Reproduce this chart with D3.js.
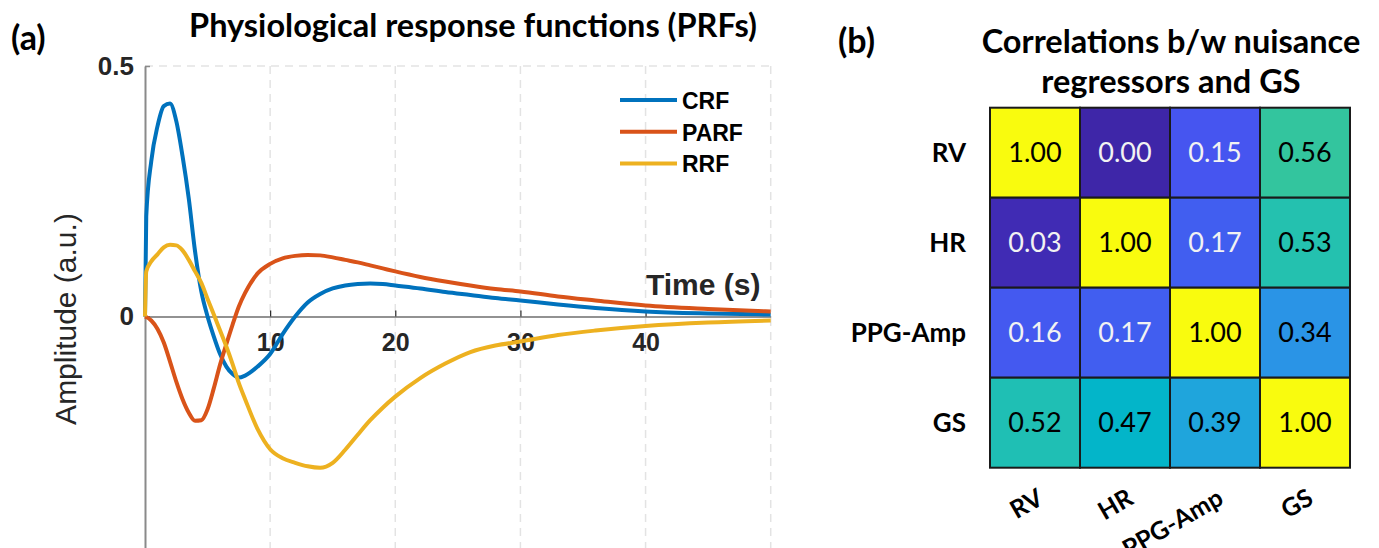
<!DOCTYPE html>
<html>
<head>
<meta charset="utf-8">
<script src="https://cdn.jsdelivr.net/npm/d3@7"></script>
<style>
  body { margin: 0; background: #fff; }
  svg { display: block; }
</style>
</head>
<body>
<div id="chart"></div>
<script>
// panel (a): physiological response functions, sampled off the figure
var time = [0, 0.1, 0.5, 1, 1.5, 2, 2.5, 3, 3.5, 4, 4.5, 5, 5.5, 6, 6.5, 7, 7.5, 8, 9, 10,
    11, 12, 13, 14, 15, 16, 17, 18, 19, 20, 22, 24, 26, 28, 30, 33, 36, 40, 45, 50];
var crf = [0, 0.2, 0.31, 0.38, 0.42, 0.425, 0.39, 0.32, 0.235, 0.13,
    0.05, 0.0, -0.04, -0.075, -0.1, -0.115, -0.122, -0.118, -0.1, -0.075,
    -0.035, 0.0, 0.028, 0.045, 0.056, 0.062, 0.065, 0.066, 0.065, 0.062,
    0.056, 0.049, 0.043, 0.037, 0.032, 0.024, 0.017, 0.01, 0.006, 0.004];
var parf = [0, -0.001, -0.008, -0.025, -0.052, -0.09, -0.13, -0.165, -0.192, -0.208,
    -0.207, -0.185, -0.143, -0.096, -0.055, -0.016, 0.02, 0.047, 0.086, 0.105,
    0.116, 0.121, 0.123, 0.122, 0.118, 0.113, 0.108, 0.102, 0.096, 0.09,
    0.079, 0.07, 0.062, 0.055, 0.05, 0.04, 0.032, 0.022, 0.015, 0.01];
var rrf = [0, 0.09, 0.11, 0.124, 0.138, 0.143, 0.142, 0.132, 0.113, 0.09,
    0.067, 0.035, 0.004, -0.028, -0.06, -0.095, -0.133, -0.165, -0.225, -0.265,
    -0.283, -0.292, -0.299, -0.302, -0.292, -0.266, -0.236, -0.207, -0.182, -0.16,
    -0.123, -0.094, -0.071, -0.058, -0.05, -0.037, -0.028, -0.019, -0.012, -0.008];
var seriesNames = ['CRF', 'PARF', 'RRF'];
var xTicks = [10, 20, 30, 40];
var xGrid = [10, 20, 30, 40, 50];
var yTicks = [0, 0.5];

// panel (b): correlation matrix
var regressors = ['RV', 'HR', 'PPG-Amp', 'GS'];
var corr = [
    [1.00, 0.00, 0.15, 0.56],
    [0.03, 1.00, 0.17, 0.53],
    [0.16, 0.17, 1.00, 0.34],
    [0.52, 0.47, 0.39, 1.00]
];
// parula-like colormap stops
var colorStops = [0, 0.03, 0.15, 0.25, 0.34, 0.39, 0.47, 0.52, 0.56, 0.65, 0.75, 0.87, 1];
var colorRange = ['#3e26a8', '#402bb4', '#4655f0', '#2f80f2', '#2a94e6', '#1fa5dc', '#03b5c9',
    '#1fbfb4', '#33c59e', '#7ccb63', '#c5c13a', '#fcbc3c', '#f9fb0e'];

var w = 1379;
var h = 548;
var svg = d3.select('#chart')
    .append('svg')
    .attr('width', w)
    .attr('height', h);

function drawResponses() {
    var lineColors = ['#0072bd', '#d95319', '#edb120'];
    var x = d3.scaleLinear().domain([0, 50]).range([145, 770.7]);
    var y = d3.scaleLinear().domain([-0.5, 0.5]).range([567, 66]);
    var g = svg.append('g');

    // dashed grid
    g.selectAll('.vgrid')
        .data(xGrid)
        .enter()
        .append('line')
        .attr('x1', function(d) { return x(d); })
        .attr('x2', function(d) { return x(d); })
        .attr('y1', y(0.5))
        .attr('y2', h)
        .attr('stroke', '#e3e3e3')
        .attr('stroke-width', 1.5)
        .attr('stroke-dasharray', '8,6');
    g.append('line')
        .attr('x1', x(0))
        .attr('x2', x(50))
        .attr('y1', y(0.5))
        .attr('y2', y(0.5))
        .attr('stroke', '#e3e3e3')
        .attr('stroke-width', 1.5)
        .attr('stroke-dasharray', '8,6');

    // y axis on the left edge
    var yAxis = g.append('g')
        .attr('transform', 'translate(' + x(0) + ',0)')
        .call(d3.axisLeft(y)
            .tickValues(yTicks)
            .tickSizeInner(-5)
            .tickSizeOuter(0)
            .tickPadding(11)
            .tickFormat(function(d) { return d === 0 ? '0' : d3.format('.1f')(d); }));
    yAxis.select('.domain').attr('stroke', '#8a8a8a').attr('stroke-width', 2);
    yAxis.selectAll('.tick line').attr('stroke', '#8a8a8a').attr('stroke-width', 1.5);
    yAxis.selectAll('.tick text')
        .attr('font-family', 'Liberation Sans, Arial, sans-serif')
        .attr('font-size', '26px')
        .attr('font-weight', 'bold')
        .attr('fill', '#262626');

    // x axis through the origin
    var xAxis = g.append('g')
        .attr('transform', 'translate(0,' + y(0) + ')')
        .call(d3.axisBottom(x)
            .tickValues(xTicks)
            .tickSizeInner(-6)
            .tickSizeOuter(0)
            .tickPadding(17));
    xAxis.select('.domain').attr('stroke', '#262626').attr('stroke-width', 1.2);
    xAxis.selectAll('.tick line').attr('stroke', '#262626').attr('stroke-width', 1.2);
    xAxis.selectAll('.tick text')
        .attr('font-family', 'Liberation Sans, Arial, sans-serif')
        .attr('font-size', '25px')
        .attr('font-weight', 'bold')
        .attr('fill', '#262626');

    // curves
    var series = [crf, parf, rrf];
    var line = d3.line()
        .x(function(d, i) { return x(time[i]); })
        .y(function(d) { return y(d); })
        .curve(d3.curveMonotoneX);
    g.selectAll('.prf')
        .data(series)
        .enter()
        .append('path')
        .attr('d', line)
        .attr('fill', 'none')
        .attr('stroke', function(d, i) { return lineColors[i]; })
        .attr('stroke-width', 4)
        .attr('stroke-linejoin', 'round');

    // legend
    var legend = g.selectAll('.legend')
        .data(seriesNames)
        .enter()
        .append('g')
        .attr('transform', function(d, i) { return 'translate(620,' + (100 + i * 31.7) + ')'; });
    legend.append('line')
        .attr('x1', 0)
        .attr('x2', 57)
        .attr('stroke', function(d, i) { return lineColors[i]; })
        .attr('stroke-width', 4);
    legend.append('text')
        .text(function(d) { return d; })
        .attr('x', 62)
        .attr('y', 9)
        .attr('font-family', 'Liberation Sans, Arial, sans-serif')
        .attr('font-size', '23px')
        .attr('font-weight', 'bold')
        .attr('fill', '#000');

    g.append('text')
        .text('Time (s)')
        .attr('x', 646)
        .attr('y', 295)
        .attr('font-family', 'Liberation Sans, Arial, sans-serif')
        .attr('font-size', '30px')
        .attr('font-weight', 'bold')
        .attr('fill', '#262626');

    g.append('text')
        .text('Amplitude (a.u.)')
        .attr('transform', 'translate(76,319) rotate(-90)')
        .attr('text-anchor', 'middle')
        .attr('font-family', 'Liberation Sans, Arial, sans-serif')
        .attr('font-size', '30px')
        .attr('fill', '#262626');

    g.append('text')
        .text('Physiological response functions (PRFs)')
        .attr('x', 473)
        .attr('y', 37)
        .attr('text-anchor', 'middle')
        .attr('font-family', 'Lato, sans-serif')
        .attr('font-size', '32.5px')
        .attr('font-weight', 'bold');

    g.append('text')
        .text('(a)')
        .attr('x', 11)
        .attr('y', 50)
        .attr('font-family', 'Lato, sans-serif')
        .attr('font-size', '34px')
        .attr('font-weight', 'bold');
}

function drawCorrelations() {
    var xb = d3.scaleBand().domain(regressors).range([990, 1350]);
    var yb = d3.scaleBand().domain(regressors).range([107.7, 467.7]);
    var color = d3.scaleLinear().domain(colorStops).range(colorRange);
    var g = svg.append('g');

    var cells = [];
    corr.forEach(function(row, i) {
        row.forEach(function(v, j) {
            cells.push({ row: regressors[i], col: regressors[j], value: v });
        });
    });

    g.selectAll('rect')
        .data(cells)
        .enter()
        .append('rect')
        .attr('x', function(d) { return xb(d.col); })
        .attr('y', function(d) { return yb(d.row); })
        .attr('width', xb.bandwidth())
        .attr('height', yb.bandwidth())
        .attr('fill', function(d) { return color(d.value); })
        .attr('stroke', '#1a1a1a')
        .attr('stroke-width', 2);

    g.selectAll('.val')
        .data(cells)
        .enter()
        .append('text')
        .text(function(d) { return d3.format('.2f')(d.value); })
        .attr('x', function(d) { return xb(d.col) + xb.bandwidth() / 2; })
        .attr('y', function(d) { return yb(d.row) + yb.bandwidth() / 2; })
        .attr('dy', '0.36em')
        .attr('text-anchor', 'middle')
        .attr('font-family', 'Lato, sans-serif')
        .attr('font-size', '27px')
        .attr('fill', function(d) { return d.value < 0.25 ? '#f2f2f2' : '#000'; });

    g.selectAll('.rowlab')
        .data(regressors)
        .enter()
        .append('text')
        .text(function(d) { return d; })
        .attr('x', 966)
        .attr('y', function(d) { return yb(d) + yb.bandwidth() / 2; })
        .attr('dy', '0.36em')
        .attr('text-anchor', 'end')
        .attr('font-family', 'Lato, sans-serif')
        .attr('font-size', '26px')
        .attr('font-weight', 'bold');

    g.selectAll('.collab')
        .data(regressors)
        .enter()
        .append('text')
        .text(function(d) { return d; })
        .attr('transform', function(d) {
            return 'translate(' + (xb(d) + xb.bandwidth() / 2 + 10) + ',503) rotate(-30)';
        })
        .attr('text-anchor', 'end')
        .attr('font-family', 'Lato, sans-serif')
        .attr('font-size', '25px')
        .attr('font-weight', 'bold');

    var title = g.append('text')
        .attr('text-anchor', 'middle')
        .attr('font-family', 'Lato, sans-serif')
        .attr('font-size', '32.5px')
        .attr('font-weight', 'bold');
    title.append('tspan').attr('x', 1171).attr('y', 53).text('Correlations b/w nuisance');
    title.append('tspan').attr('x', 1171).attr('y', 93).text('regressors and GS');

    g.append('text')
        .text('(b)')
        .attr('x', 838)
        .attr('y', 53)
        .attr('font-family', 'Lato, sans-serif')
        .attr('font-size', '34px')
        .attr('font-weight', 'bold');
}

drawResponses();
drawCorrelations();
</script>
</body>
</html>
